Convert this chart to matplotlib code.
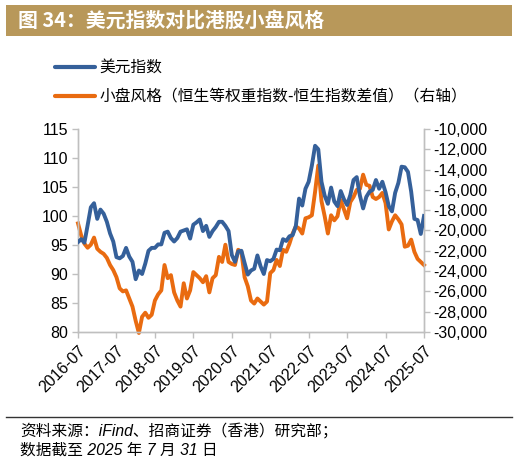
import numpy as np
import matplotlib
matplotlib.use("Agg")
from matplotlib import pyplot as plt
from matplotlib.patches import Rectangle
from matplotlib.lines import Line2D
from matplotlib.ticker import FuncFormatter

# 月度数据 2016-07 ~ 2025-07
months = np.arange(109)
tick_labels = ["2016-07", "2017-07", "2018-07", "2019-07", "2020-07",
               "2021-07", "2022-07", "2023-07", "2024-07", "2025-07"]

usd_index = [
    95.5, 96.0, 95.4, 98.4, 101.5, 102.2,
    99.5, 101.1, 100.4, 99.0, 97.0, 95.6, 92.9, 92.7, 93.1, 94.5, 93.0, 92.1,
    89.1, 90.6, 90.0, 91.8, 94.0, 94.5, 94.5, 95.1, 95.1, 97.1, 97.3, 96.2,
    95.6, 96.2, 97.3, 97.5, 97.7, 96.1, 98.5, 98.9, 99.4, 97.4, 98.3, 96.4,
    97.4, 98.1, 99.0, 99.0, 98.3, 97.4, 93.3, 92.1, 93.9, 94.0, 91.9, 89.9,
    90.6, 90.9, 93.2, 91.3, 90.0, 92.4, 92.2, 92.6, 94.2, 94.1, 96.0, 95.7,
    96.5, 96.7, 98.3, 103.0, 101.8, 104.7, 105.9, 108.7, 112.1, 111.5, 105.9, 103.5,
    102.1, 104.9, 102.5, 101.7, 104.3, 102.9, 101.9, 103.6, 106.2, 106.7, 103.5, 101.3,
    103.3, 104.2, 104.5, 106.2, 104.7, 105.9, 104.1, 101.7, 100.8, 104.0, 105.7, 108.5,
    108.4, 107.6, 104.2, 99.5, 99.3, 96.9, 100.0,
]

small_cap_spread = [
    -19300, -20500, -21300, -21700, -21400, -20700,
    -21800, -22100, -22300, -22700, -23400, -23900, -24600, -25700, -26000, -25900, -26700, -27500,
    -28900, -30100, -28500, -28100, -28600, -28300, -26900, -26300, -25900, -23400, -24700, -24400,
    -26100, -26900, -27500, -25200, -26700, -25900, -24100, -24400, -24700, -25100, -24500, -26100,
    -24700, -24400, -22600, -23100, -21400, -23100, -23300, -23400, -21900, -22100, -24600, -25500,
    -26900, -27200, -26700, -27000, -27300, -27000, -24200, -23900, -22900, -23500, -21900, -22100,
    -21300, -20300, -19600, -19800, -20300, -18800, -18700, -18500, -16200, -13600, -17100, -18600,
    -20300, -18500, -19000, -18600, -17000, -17900, -18800, -17200, -16700, -16000, -15900, -14500,
    -15500, -15600, -16700, -16900, -16700, -16300, -17300, -19900, -19100, -18500, -18900, -19400,
    -21600, -21500, -20900, -22100, -22800, -23100, -23400,
]

blue = "#35609A"
orange = "#E96B10"
grey = "#BFBFBF"
cjk = ["Noto Sans CJK SC", "DejaVu Sans"]
num_font = ["Liberation Sans", "DejaVu Sans"]

fig = plt.figure(figsize=(5.17, 4.59), dpi=100)

# 标题栏
fig.patches.append(Rectangle((0.0116, 0.9216), 0.9787, 0.0675, transform=fig.transFigure,
                             facecolor="#B8985A", edgecolor="none"))
fig.text(0.035, 0.956, "图 34：美元指数对比港股小盘风格", color="white", fontsize=14.3,
         fontweight="bold", family=cjk, va="center", ha="left")

# 图例
fig.lines.append(Line2D([0.106, 0.184], [0.854, 0.854], transform=fig.transFigure,
                        color=blue, lw=3, solid_capstyle="round"))
fig.text(0.193, 0.854, "美元指数", fontsize=11.3, family=cjk, va="center")
fig.lines.append(Line2D([0.106, 0.184], [0.791, 0.791], transform=fig.transFigure,
                        color=orange, lw=3, solid_capstyle="round"))
fig.text(0.193, 0.791, "小盘风格（恒生等权重指数-恒生指数差值）（右轴）", fontsize=11.3,
         family=cjk, va="center")

ax = fig.add_axes([0.1509, 0.2767, 0.6692, 0.4423])
ax2 = ax.twinx()

ax.plot(months, usd_index, color=blue, lw=2.8, zorder=3)
ax2.plot(months, small_cap_spread, color=orange, lw=2.8, clip_on=False)
ax.set_zorder(ax2.get_zorder() + 1)
ax.patch.set_visible(False)

ax.set_xlim(0, 108)
ax.set_ylim(80, 115)
ax.set_yticks(np.arange(80, 116, 5))
ax2.set_ylim(-30000, -10000)
ax2.set_yticks(np.arange(-30000, -9999, 2000))
ax2.yaxis.set_major_formatter(FuncFormatter(lambda v, p: f"{int(v):,}"))

ax.set_xticks(months[::12])
ax.set_xticklabels(tick_labels, rotation=45, ha="right", rotation_mode="anchor")

for a in (ax, ax2):
    a.spines["top"].set_visible(False)
    for side in ("left", "right", "bottom"):
        a.spines[side].set_color(grey)
        a.spines[side].set_linewidth(1.0)
    a.tick_params(length=4, width=1.0, color=grey, labelsize=11.5, pad=3)
    for lab in a.get_xticklabels() + a.get_yticklabels():
        lab.set_family(num_font)
ax.tick_params(axis="x", pad=4)

# 底部来源
src_font = ["Liberation Sans", "Noto Sans CJK SC"]
fig.lines.append(Line2D([0.0116, 0.9903], [0.0915, 0.0915], transform=fig.transFigure,
                        color="#333333", lw=1.0))
fig.text(0.039, 0.062, "资料来源：iFind、招商证券（香港）研究部；", fontsize=11.3,
         family=src_font, style="italic", va="center")
fig.text(0.039, 0.003, "数据截至 2025 年 7 月 31 日", fontsize=11.3,
         family=src_font, style="italic", va="bottom")

fig.savefig("out.png", dpi=100)
